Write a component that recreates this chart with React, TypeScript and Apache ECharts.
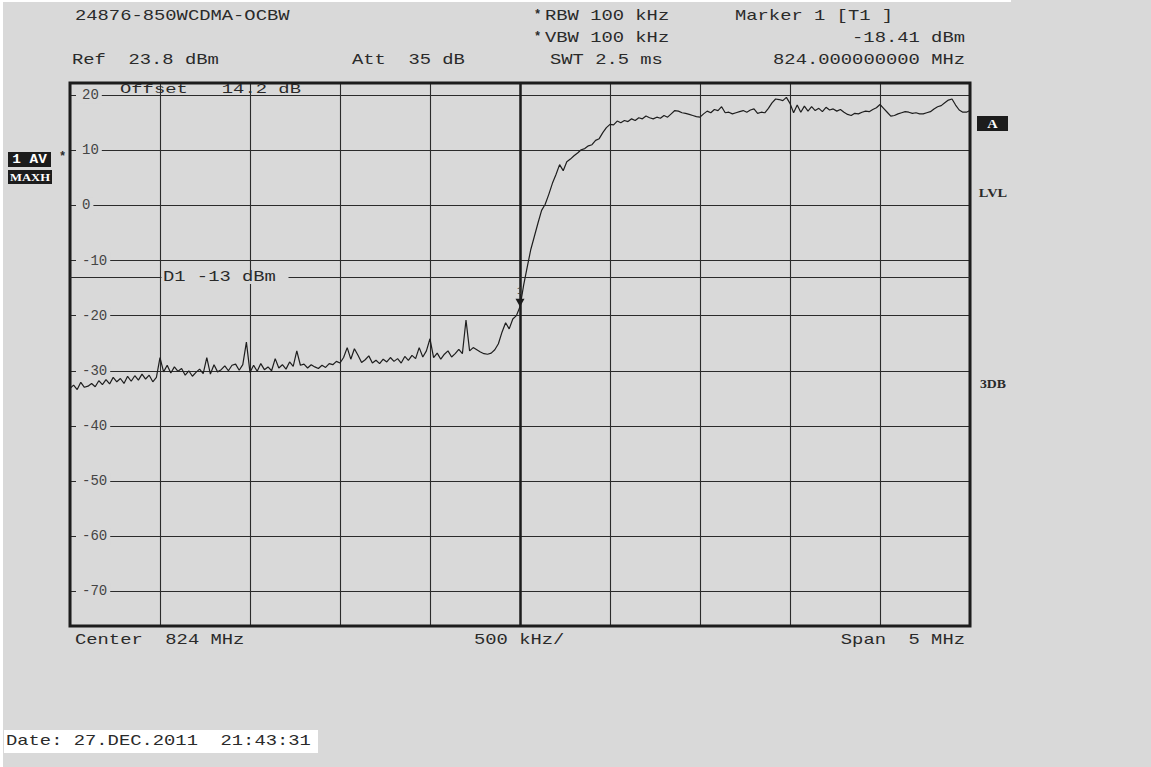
import React, { useEffect, useRef } from "react";
import * as echarts from "echarts";

// Sweep definition (offset from center frequency, MHz)
const CENTER_MHZ = 824;
const SPAN_MHZ = 5;
const SWEEP_POINTS = 251;

const levelSeg1 = [-33.2, -32.6, -33.4, -32.1, -33.0, -32.8, -32.3, -32.9, -31.8, -32.5, -31.6, -32.4, -31.2, -32.0, -31.4, -32.3, -31.0, -31.9, -30.9, -31.7, -30.6, -31.5, -30.8, -32.0, -31.2, -27.6];
const levelSeg2 = [-30.2, -29.0, -30.4, -29.3, -30.1, -29.6, -30.8, -30.0, -31.0, -30.3, -29.7, -30.5, -27.6, -30.6, -28.9, -30.2, -29.8, -29.1, -30.0, -29.0, -28.8, -29.9, -28.9, -24.8, -30.3];
const levelSeg3 = [-29.0, -30.1, -28.7, -29.8, -29.3, -30.0, -27.8, -29.5, -28.9, -29.7, -28.4, -29.2, -26.4, -29.0, -28.8, -29.5, -28.9, -29.3, -29.6, -29.0, -29.4, -28.7, -28.9, -28.3, -28.6];
const levelSeg4 = [-27.6, -25.8, -27.9, -26.0, -27.2, -28.5, -28.0, -27.3, -28.6, -28.1, -28.7, -27.9, -28.4, -27.6, -28.3, -27.8, -28.6, -27.4, -28.1, -27.2, -27.8, -25.8, -27.5, -26.4, -24.2];
const levelSeg5 = [-27.6, -26.8, -27.9, -27.0, -26.4, -27.5, -26.9, -26.1, -26.9, -20.8, -26.4, -25.8, -26.2, -26.6, -26.9, -27.0, -26.8, -26.2, -25.1, -23.0, -21.3, -22.4, -20.6, -20.0, -18.4];
const levelSeg6 = [-14.5, -11.2, -8.0, -5.6, -3.2, -0.9, 0.2, 2.0, 4.0, 5.6, 7.4, 6.3, 7.9, 8.4, 9.0, 9.5, 10.1, 10.3, 10.8, 11.0, 11.8, 12.1, 13.2, 14.1, 14.7];
const levelSeg7 = [14.6, 15.3, 15.0, 15.4, 15.2, 15.7, 15.4, 15.9, 15.7, 16.2, 15.9, 15.7, 16.0, 15.8, 16.3, 16.0, 16.6, 17.2, 17.1, 16.8, 16.7, 16.5, 16.3, 16.1, 16.0];
const levelSeg8 = [16.6, 17.1, 16.8, 17.4, 17.2, 17.9, 16.8, 16.9, 16.6, 16.8, 17.0, 17.2, 16.9, 17.3, 17.5, 16.7, 16.9, 16.8, 17.6, 18.6, 19.3, 19.2, 19.0, 19.6, 18.5];
const levelSeg9 = [16.8, 18.2, 16.9, 18.0, 17.1, 17.9, 17.2, 17.6, 17.0, 17.8, 17.3, 17.5, 17.1, 17.4, 16.9, 16.5, 16.3, 16.7, 16.6, 16.9, 17.1, 17.0, 17.4, 17.7, 18.3];
const levelSeg10 = [17.6, 16.9, 16.2, 16.3, 16.6, 16.8, 17.0, 16.9, 16.7, 16.8, 16.6, 16.6, 16.8, 17.0, 17.5, 17.9, 18.1, 18.6, 19.1, 19.3, 18.2, 17.3, 16.9, 16.9, 17.2];

const levelDbm = [
  ...levelSeg1, ...levelSeg2, ...levelSeg3, ...levelSeg4, ...levelSeg5,
  ...levelSeg6, ...levelSeg7, ...levelSeg8, ...levelSeg9, ...levelSeg10,
];

const marker = { offsetMHz: 0, level: -18.41 };
const displayLine = { level: -13, label: "D1 -13 dBm" };

const headerTexts = {
  title: "24876-850WCDMA-OCBW",
  rbw: "RBW 100 kHz",
  vbw: "VBW 100 kHz",
  markerTitle: "Marker 1 [T1 ]",
  markerLevel: "-18.41 dBm",
  markerFreq: "824.000000000 MHz",
  ref: "Ref  23.8 dBm",
  att: "Att  35 dB",
  swt: "SWT 2.5 ms",
  offset: "Offset   14.2 dB",
  center: "Center  824 MHz",
  perDiv: "500 kHz/",
  span: "Span  5 MHz",
  date: "Date: 27.DEC.2011  21:43:31",
};

const BG = "#d9d9d9";
const INK = "#2a2a2a";
const MONO = "'Liberation Mono', 'DejaVu Sans Mono', monospace";
const SERIF = "'Liberation Serif', 'DejaVu Serif', serif";
const SX = 1.345;

function txt(x: number, y: number, text: string, align: string = "left", extra: any = {}) {
  return {
    type: "text",
    x,
    y,
    scaleX: extra.scaleX ?? SX,
    z: 50,
    style: {
      text,
      x: 0,
      y: 0,
      fill: extra.fill ?? INK,
      font: extra.font ?? `14px ${MONO}`,
      textAlign: align,
      textVerticalAlign: "middle",
    },
  };
}

export default function App() {
  const ref = useRef<HTMLDivElement>(null);

  useEffect(() => {
    if (!ref.current) return;
    const chart = echarts.init(ref.current, null, { renderer: "svg" });
    const half = SPAN_MHZ / 2;
    const step = SPAN_MHZ / (SWEEP_POINTS - 1);
    const data = levelDbm.map((v, i) => [-half + i * step, v]);

    chart.setOption({
      animation: false,
      backgroundColor: BG,
      grid: {
        left: 70,
        right: 181,
        top: 83,
        bottom: 141,
        show: true,
        borderColor: "#1c1c1c",
        borderWidth: 3,
        backgroundColor: "transparent",
        z: 5,
      },
      xAxis: {
        type: "value",
        min: -half,
        max: half,
        interval: 0.5,
        axisLine: { show: false },
        axisTick: { show: false },
        axisLabel: { show: false },
        splitLine: { show: true, lineStyle: { color: "#2b2b2b", width: 1.1 } },
      },
      yAxis: {
        type: "value",
        min: -76.3,
        max: 22.2,
        splitNumber: 10,
        axisLine: { show: false },
        axisTick: { show: false },
        splitLine: { show: true, lineStyle: { color: "#2b2b2b", width: 1.1 } },
        axisLabel: {
          inside: true,
          margin: 6,
          showMinLabel: false,
          showMaxLabel: false,
          color: "#444",
          fontFamily: MONO,
          fontSize: 14,
          backgroundColor: BG,
          padding: [1, 3, 1, 6],
          formatter: (v: number) => String(Math.round(v)),
        },
      },
      series: [
        {
          type: "line",
          data,
          showSymbol: false,
          lineStyle: { color: "#1e1e1e", width: 1.2 },
          z: 3,
          markLine: {
            silent: true,
            symbol: "none",
            label: { show: false },
            data: [
              { xAxis: marker.offsetMHz, lineStyle: { color: "#1c1c1c", width: 2.5, type: "solid" } },
              { yAxis: displayLine.level, lineStyle: { color: "#2b2b2b", width: 1.1, type: "solid" } },
            ],
          },
          markPoint: {
            silent: true,
            data: [
              {
                coord: [marker.offsetMHz, marker.level],
                symbol: "path://M0 0L10 0L5 9Z",
                symbolSize: [9, 8],
                symbolOffset: [0, -4],
                itemStyle: { color: "#1c1c1c" },
                label: {
                  show: true,
                  formatter: "1",
                  position: "top",
                  distance: 2,
                  color: "#333",
                  fontSize: 10,
                  fontFamily: MONO,
                },
              },
            ],
          },
        },
      ],
    });

    const d1 = chart.convertToPixel({ gridIndex: 0 }, [-2.0, displayLine.level]) as number[];

    chart.setOption({
      graphic: {
        elements: [
          { type: "rect", shape: { x: 0, y: 0, width: 3, height: 767 }, style: { fill: "#ffffff" }, z: 1 },
          { type: "rect", shape: { x: 0, y: 0, width: 1011, height: 2 }, style: { fill: "#ffffff" }, z: 1 },
          txt(75, 16, headerTexts.title),
          txt(534, 15, "*", "left", { font: `bold 12px ${MONO}`, scaleX: 1 }),
          txt(545, 16, headerTexts.rbw),
          txt(735, 16, headerTexts.markerTitle),
          txt(534, 37, "*", "left", { font: `bold 12px ${MONO}`, scaleX: 1 }),
          txt(545, 38, headerTexts.vbw),
          txt(965, 38, headerTexts.markerLevel, "right"),
          txt(72, 60, headerTexts.ref),
          txt(352, 60, headerTexts.att),
          txt(550, 60, headerTexts.swt),
          txt(965, 60, headerTexts.markerFreq, "right"),
          txt(120, 90, headerTexts.offset, "left", { font: `13px ${MONO}`, scaleX: 1.45 }),
          txt(75, 640, headerTexts.center),
          txt(474, 640, headerTexts.perDiv),
          txt(965, 640, headerTexts.span, "right"),
          { type: "rect", shape: { x: 4, y: 730, width: 314, height: 23 }, style: { fill: "#ffffff" }, z: 40 },
          txt(6, 741, headerTexts.date),
          // D1 display line label
          {
            type: "rect",
            shape: { x: d1[0] + 1.5, y: d1[1] - 7, width: 127, height: 14 },
            style: { fill: BG },
            z: 60,
          },
          { ...txt(d1[0] + 3, d1[1], displayLine.label), z: 61 },
          // left trace badges
          { type: "rect", shape: { x: 8, y: 152, width: 43, height: 15 }, style: { fill: "#1c1c1c" }, z: 40 },
          txt(29.5, 160, "1 AV", "center", { font: `bold 12px ${MONO}`, fill: "#ffffff", scaleX: 1.2 }),
          txt(59, 157, "*", "left", { font: `bold 12px ${MONO}`, scaleX: 1 }),
          { type: "rect", shape: { x: 8, y: 170, width: 44, height: 14 }, style: { fill: "#1c1c1c" }, z: 40 },
          txt(30, 177.5, "MAXH", "center", { font: `bold 11px ${SERIF}`, fill: "#ffffff", scaleX: 1.15 }),
          // right side indicators
          { type: "rect", shape: { x: 977, y: 116, width: 31, height: 15 }, style: { fill: "#1c1c1c" }, z: 40 },
          txt(992.5, 124, "A", "center", { font: `bold 12px ${SERIF}`, fill: "#ffffff", scaleX: 1.2 }),
          txt(993, 193, "LVL", "center", { font: `bold 12px ${SERIF}`, scaleX: 1.2 }),
          txt(993, 384, "3DB", "center", { font: `bold 12px ${SERIF}`, scaleX: 1.15 }),
        ],
      },
    });

    return () => chart.dispose();
  }, []);

  return (
    <div
      ref={ref}
      style={{ position: "absolute", left: 0, top: 0, width: 1151, height: 767 }}
    />
  );
}
